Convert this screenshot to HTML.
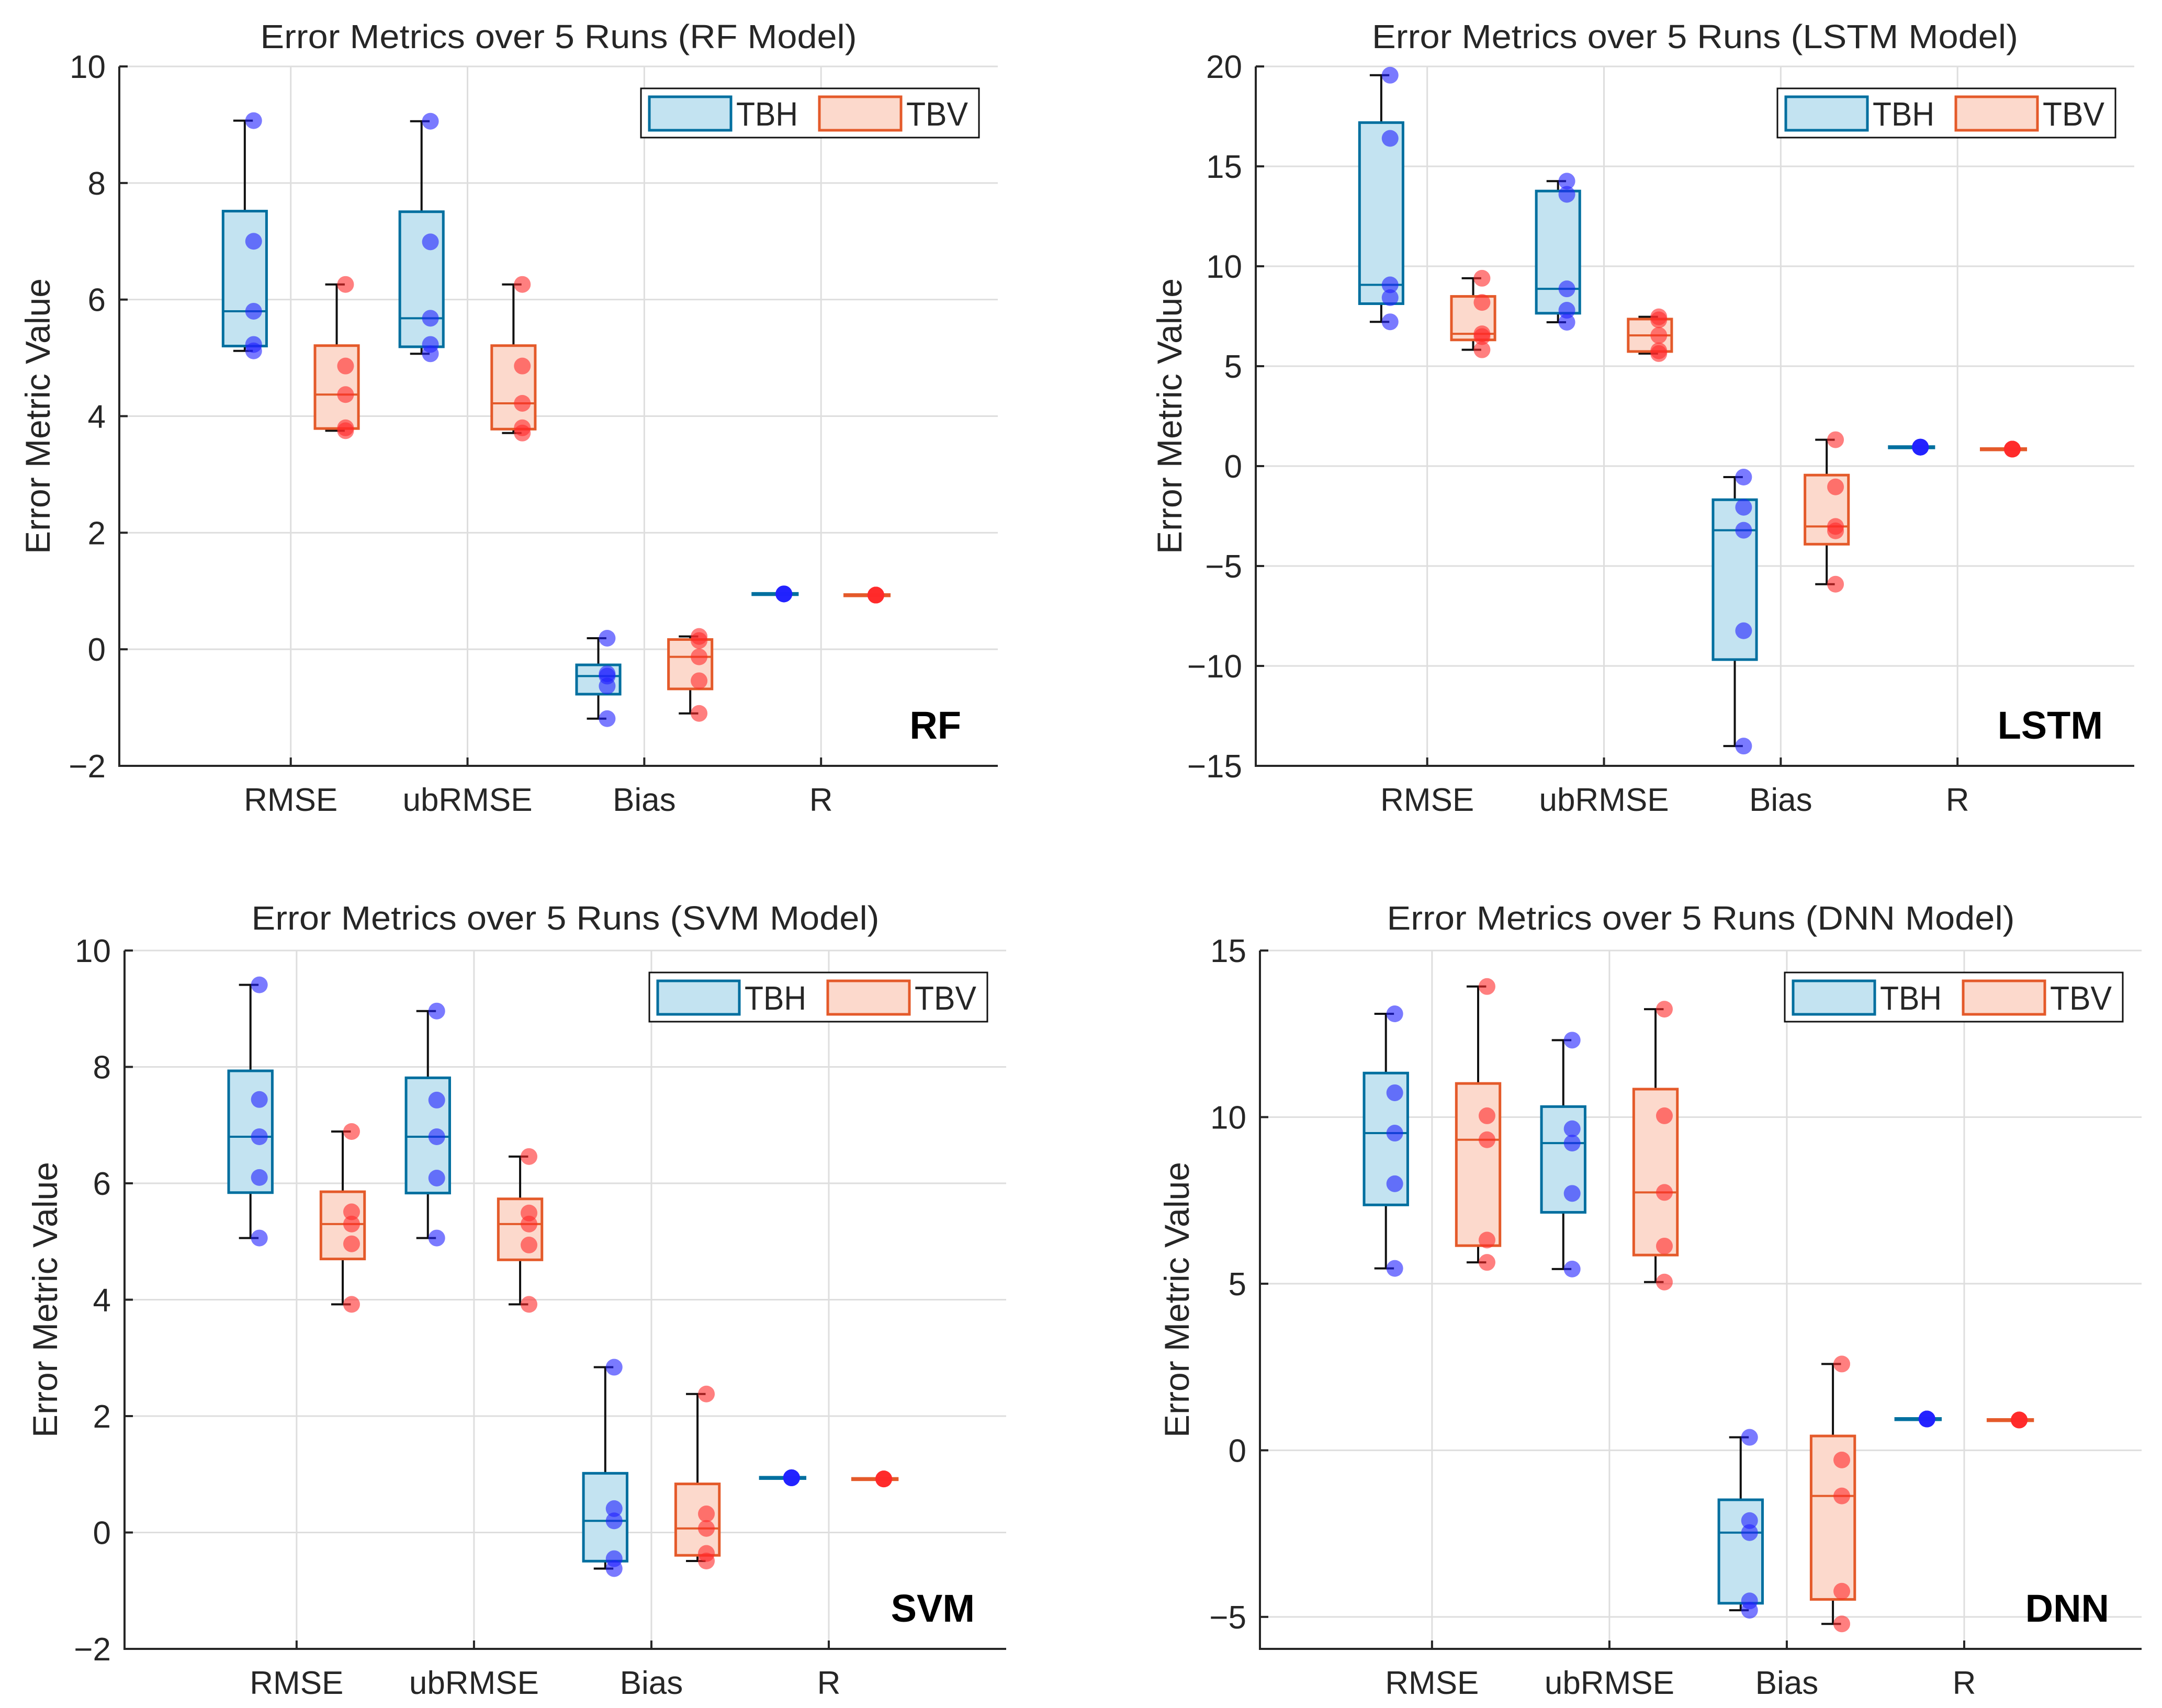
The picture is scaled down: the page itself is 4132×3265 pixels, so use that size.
<!DOCTYPE html>
<html><head><meta charset="utf-8"><title>Error Metrics over 5 Runs</title>
<style>
html,body{margin:0;padding:0;background:#fff;}
svg{display:block;}
text{font-family:"Liberation Sans",sans-serif;fill:#262626;}
</style></head>
<body>
<svg id="fig" xmlns="http://www.w3.org/2000/svg" width="4132" height="3265" viewBox="0 0 4132 3265"></svg>
<script>
// ---- data ----
const categories = ["RMSE", "ubRMSE", "Bias", "R"];
const rfTicks = [-2, 0, 2, 4, 6, 8, 10];
const lstmTicks = [-15, -10, -5, 0, 5, 10, 15, 20];
const svmTicks = [-2, 0, 2, 4, 6, 8, 10];
const dnnTicks = [-5, 0, 5, 10, 15];

// five runs per category: [RMSE, ubRMSE, Bias, R]
const rfTBH = [[9.07, 7.0, 5.8, 5.23, 5.12], [9.06, 6.99, 5.68, 5.23, 5.07], [0.19, -0.42, -0.46, -0.63, -1.19], [0.95, 0.95, 0.95, 0.95, 0.95]];
const rfTBV = [[6.26, 4.86, 4.37, 3.8, 3.75], [6.26, 4.86, 4.22, 3.8, 3.71], [0.22, 0.15, -0.13, -0.54, -1.1], [0.93, 0.93, 0.93, 0.93, 0.93]];
const lstmTBH = [[19.56, 16.4, 9.07, 8.43, 7.22], [14.26, 13.6, 8.87, 7.8, 7.2], [-0.55, -2.06, -3.21, -8.24, -14.01], [0.95, 0.95, 0.95, 0.95, 0.95]];
const lstmTBV = [[9.4, 8.19, 6.62, 6.48, 5.82], [7.47, 7.32, 6.54, 5.77, 5.63], [1.32, -1.04, -3.02, -3.24, -5.91], [0.85, 0.85, 0.85, 0.85, 0.85]];
const svmTBH = [[9.41, 7.44, 6.8, 6.1, 5.06], [8.96, 7.43, 6.8, 6.09, 5.06], [2.84, 0.41, 0.2, -0.45, -0.62], [0.94, 0.94, 0.94, 0.94, 0.94]];
const svmTBV = [[6.89, 5.51, 5.3, 4.96, 3.92], [6.46, 5.49, 5.3, 4.94, 3.92], [2.38, 0.32, 0.07, -0.36, -0.49], [0.92, 0.92, 0.92, 0.92, 0.92]];
const dnnTBH = [[13.1, 10.73, 9.52, 8.0, 5.46], [12.31, 9.65, 9.22, 7.71, 5.44], [0.39, -2.11, -2.47, -4.52, -4.8], [0.94, 0.94, 0.94, 0.94, 0.94]];
const dnnTBV = [[13.92, 10.04, 9.32, 6.31, 5.64], [13.24, 10.04, 7.74, 6.13, 5.05], [2.59, -0.29, -1.37, -4.23, -5.21], [0.91, 0.91, 0.91, 0.91, 0.91]];

// ---- layout ----
const panels = [
  {id:"rf", title:"Error Metrics over 5 Runs (RF Model)", tag:"RF", tbh:rfTBH, tbv:rfTBV, ticks:rfTicks, ymin:-2, ymax:10,
   L:228, R:1907, T:127, B:1464, titleY:92, titleW:1140, ylabX:73, tagInset:70},
  {id:"lstm", title:"Error Metrics over 5 Runs (LSTM Model)", tag:"LSTM", tbh:lstmTBH, tbv:lstmTBV, ticks:lstmTicks, ymin:-15, ymax:20,
   L:2400, R:4079, T:127, B:1464, titleY:92, titleW:1235, ylabX:2236, tagInset:60},
  {id:"svm", title:"Error Metrics over 5 Runs (SVM Model)", tag:"SVM", tbh:svmTBH, tbv:svmTBV, ticks:svmTicks, ymin:-2, ymax:10,
   L:238, R:1923, T:1817, B:3152, titleY:1777, titleW:1200, ylabX:87, tagInset:60},
  {id:"dnn", title:"Error Metrics over 5 Runs (DNN Model)", tag:"DNN", tbh:dnnTBH, tbv:dnnTBV, ticks:dnnTicks, ymin:-5.96, ymax:15,
   L:2408, R:4093, T:1817, B:3152, titleY:1777, titleW:1200, ylabX:2250, tagInset:62}
];
const XMIN = 0.03, XMAX = 5.0;
const NS = "http://www.w3.org/2000/svg";
const svg = document.getElementById("fig");

function mk(tag, attrs, parent, txt) {
  const e = document.createElementNS(NS, tag);
  for (const k in attrs) e.setAttribute(k, attrs[k]);
  if (txt !== undefined) e.textContent = txt;
  parent.appendChild(e);
  return e;
}
function quant(arr, p) {
  const s = arr.slice().sort((a, b) => a - b);
  const n = s.length;
  let pos = p * n + 0.5;
  if (pos < 1) return s[0];
  if (pos > n) return s[n - 1];
  const i = Math.floor(pos), f = pos - i;
  return i >= n ? s[n - 1] : s[i - 1] + f * (s[i] - s[i - 1]);
}

panels.forEach(P => {
  const g = mk("g", {}, svg);
  
  
  const xs = c => P.L + (c - XMIN) * (P.R - P.L) / (XMAX - XMIN);
  const ys = v => P.B - (v - P.ymin) * (P.B - P.T) / (P.ymax - P.ymin);
  const u = (P.R - P.L) / (XMAX - XMIN);

  // grid
  const grid = mk("g", {stroke:"#dedede", "stroke-width":3}, g);
  
  
  P.ticks.forEach(t => { if (t > P.ymin) mk("line", {x1:P.L, x2:P.R, y1:ys(t), y2:ys(t)}, grid); });
  categories.forEach((c, i) => mk("line", {x1:xs(i+1), x2:xs(i+1), y1:P.T, y2:P.B}, grid));

  // y ticks & labels
  P.ticks.forEach(t => {
    mk("line", {x1:P.L, x2:P.L+16, y1:ys(t), y2:ys(t), stroke:"#262626", "stroke-width":4}, g);
    const lab = mk("text", {x:P.L-26, y:ys(t)+22, "text-anchor":"end", "font-size":62}, g, t < 0 ? "\u2212" + Math.abs(t) : String(t));
    
    
  });
  // x ticks & labels
  categories.forEach((c, i) => {
    mk("line", {x1:xs(i+1), x2:xs(i+1), y1:P.B, y2:P.B-16, stroke:"#262626", "stroke-width":4}, g);
    const lab = mk("text", {x:xs(i+1), y:P.B+86, "text-anchor":"middle", "font-size":62}, g, c);
    
    
  });
  // axes
  const ax = mk("path", {d:`M${P.L} ${P.T} V${P.B} H${P.R}`, fill:"none", stroke:"#262626", "stroke-width":4}, g);
  
  

  // series
  const series = [
    {name:"tbh", data:P.tbh, off:-0.26, edge:"#006f9f", fill:"#c3e3f1", dot:"#2222ff"},
    {name:"tbv", data:P.tbv, off:0.26, edge:"#e45a2a", fill:"#fcd9cc", dot:"#ff2a2a"}
  ];
  series.forEach(S => {
    S.data.forEach((vals, i) => {
      const cx = xs(i + 1 + S.off);
      const q1 = quant(vals, 0.25), med = quant(vals, 0.5), q3 = quant(vals, 0.75);
      const lo = Math.min(...vals), hi = Math.max(...vals);
      const hw = 0.123 * u, cap = 0.065 * u;
      const bg = mk("g", {}, g);
      
      
      if (hi > q3 + 1e-9) {
        mk("line", {x1:cx, x2:cx, y1:ys(q3), y2:ys(hi), stroke:"#111", "stroke-width":4}, bg);
        mk("line", {x1:cx-cap, x2:cx+cap*0.7, y1:ys(hi), y2:ys(hi), stroke:"#111", "stroke-width":4}, bg);
      }
      if (lo < q1 - 1e-9) {
        mk("line", {x1:cx, x2:cx, y1:ys(q1), y2:ys(lo), stroke:"#111", "stroke-width":4}, bg);
        mk("line", {x1:cx-cap, x2:cx+cap*0.7, y1:ys(lo), y2:ys(lo), stroke:"#111", "stroke-width":4}, bg);
      }
      const h = Math.max(ys(q1) - ys(q3), 0.5);
      mk("rect", {x:cx-hw, y:ys(q3), width:2*hw, height:h, fill:S.fill, stroke:S.edge, "stroke-width":h < 3 ? 7 : 5}, bg);
      mk("line", {x1:cx-hw, x2:cx+hw, y1:ys(med), y2:ys(med), stroke:S.edge, "stroke-width":4}, bg);
      vals.forEach(v => {
        const d = mk("circle", {cx:cx + 0.05*u, cy:ys(v), r:16, fill:S.dot, "fill-opacity":0.6}, bg);
        
        
      });
    });
  });

  // title
  const ti = mk("text", {x:(P.L+P.R)/2, y:P.titleY, "text-anchor":"middle", "font-size":64, textLength:P.titleW, lengthAdjust:"spacingAndGlyphs"}, g, P.title);
  
  
  // y label
  const yl = mk("text", {x:0, y:0, "text-anchor":"middle", "font-size":66, transform:`translate(${P.ylabX + 22},${(P.T+P.B)/2}) rotate(-90)`}, g, "Error Metric Value");
  
  
  // model tag
  const tg = mk("text", {x:P.R-P.tagInset, y:P.B-52, "text-anchor":"end", "font-size":74, "font-weight":"bold", style:"fill:#000"}, g, P.tag);
  
  

  // legend
  const lgR = P.R - 36, lgT = P.T + 42, lgW = 646, lgH = 94;
  const lg = mk("g", {}, g);
  
  
  mk("rect", {x:lgR-lgW, y:lgT, width:lgW, height:lgH, fill:"#fff", stroke:"#111", "stroke-width":3}, lg);
  const lx = lgR - lgW;
  const e1 = mk("g", {}, lg);
  
  
  mk("rect", {x:lx+16, y:lgT+16, width:156, height:64, fill:"#c3e3f1", stroke:"#006f9f", "stroke-width":5}, e1);
  mk("text", {x:lx+182, y:lgT+71, "font-size":64, textLength:118, lengthAdjust:"spacingAndGlyphs"}, e1, "TBH");
  const e2 = mk("g", {}, lg);
  
  
  mk("rect", {x:lx+341, y:lgT+16, width:156, height:64, fill:"#fcd9cc", stroke:"#e45a2a", "stroke-width":5}, e2);
  mk("text", {x:lx+507, y:lgT+71, "font-size":64, textLength:118, lengthAdjust:"spacingAndGlyphs"}, e2, "TBV");
});
</script>
</body></html>
